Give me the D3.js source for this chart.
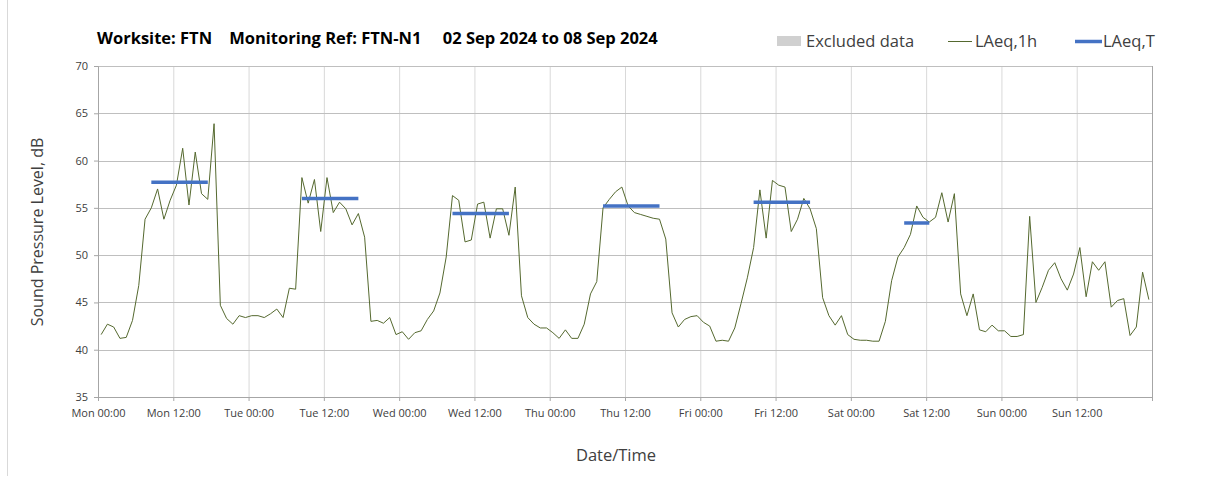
<!DOCTYPE html>
<html>
<head>
<meta charset="utf-8">
<script src="https://cdn.jsdelivr.net/npm/d3@7"></script>
<style>
  body { margin: 0; background: #fff; }
  text { font-family: "Open Sans", Lato, sans-serif; fill: #404040; }
</style>
</head>
<body>
<div id="chart-area"></div>
<script>
// hourly LAeq,1h values, Mon 00:00 .. Sun 23:00
var mon = [41.6, 42.7, 42.4, 41.2, 41.3, 43.1, 46.8, 53.8, 55.0, 57.0, 53.8, 55.8, 57.4, 61.3, 55.3, 60.9, 56.5, 55.9, 63.9, 44.7, 43.3, 42.7, 43.6, 43.4];
var tue = [43.6, 43.6, 43.4, 43.8, 44.3, 43.4, 46.5, 46.4, 58.2, 55.5, 58.0, 52.5, 58.2, 54.5, 55.6, 54.9, 53.2, 54.4, 51.9, 43.0, 43.1, 42.8, 43.4, 41.6];
var wed = [41.9, 41.1, 41.8, 42.0, 43.2, 44.1, 46.0, 49.8, 56.3, 55.8, 51.4, 51.6, 55.4, 55.6, 51.8, 54.9, 54.9, 52.1, 57.2, 45.7, 43.4, 42.7, 42.3, 42.3];
var thu = [41.8, 41.2, 42.1, 41.2, 41.2, 42.7, 45.9, 47.2, 55.0, 55.9, 56.7, 57.2, 55.2, 54.5, 54.3, 54.1, 53.9, 53.8, 51.7, 43.9, 42.4, 43.2, 43.5, 43.6];
var fri = [42.9, 42.5, 40.9, 41.0, 40.9, 42.3, 44.9, 47.6, 50.8, 56.9, 51.8, 57.9, 57.4, 57.2, 52.5, 53.8, 56.0, 54.9, 52.8, 45.5, 43.6, 42.6, 43.6, 41.6];
var sat = [41.1, 41.0, 41.0, 40.9, 40.9, 43.0, 47.3, 49.8, 50.8, 52.2, 55.2, 54.0, 53.5, 54.0, 56.6, 53.5, 56.5, 45.9, 43.6, 45.9, 42.1, 41.9, 42.6, 42.0];
var sun = [42.0, 41.4, 41.4, 41.6, 54.1, 45.0, 46.6, 48.4, 49.2, 47.5, 46.3, 48.0, 50.8, 45.6, 49.3, 48.4, 49.3, 44.5, 45.2, 45.4, 41.5, 42.4, 48.2, 45.3];

// LAeq,T per period: start hour, end hour (hours from Mon 00:00), level
var periodStart = [8, 32, 56, 80, 104, 128];
var periodEnd = [17, 41, 65, 89, 113, 132];
var periodLevel = [57.7, 56.0, 54.4, 55.2, 55.6, 53.4];

var dayNames = ['Mon', 'Tue', 'Wed', 'Thu', 'Fri', 'Sat', 'Sun'];
var yTicks = [35, 40, 45, 50, 55, 60, 65, 70];

var hourly = [].concat(mon, tue, wed, thu, fri, sat, sun).map(function (v, i) {
    return { hour: i + 0.5, value: v };
});

var margin = { top: 66, right: 53, bottom: 89, left: 98 };
var width = 1205 - margin.left - margin.right;
var height = 486 - margin.top - margin.bottom;

var svg = d3.select('#chart-area')
    .append('svg')
        .attr('width', 1205)
        .attr('height', 486);

// faint frame edge on the left
svg.append('line')
    .attr('x1', 7.5).attr('x2', 7.5)
    .attr('y1', 0).attr('y2', 476)
    .attr('stroke', '#d9d9d9');

var g = svg.append('g')
    .attr('transform', 'translate(' + margin.left + ',' + margin.top + ')');

var x = d3.scaleLinear()
    .domain([0, 168])
    .range([0, width]);

var y = d3.scaleLinear()
    .domain([35, 70])
    .range([height, 0]);

var xTicks = d3.range(0, 169, 12);

// vertical grid
g.append('g')
    .selectAll('line')
    .data(xTicks.slice(1, -1))
    .enter()
    .append('line')
        .attr('x1', function (d) { return x(d) + 0.5 })
        .attr('x2', function (d) { return x(d) + 0.5 })
        .attr('y1', 0)
        .attr('y2', height)
        .attr('stroke', '#d9d9d9');

// horizontal grid
g.append('g')
    .selectAll('line')
    .data(yTicks.slice(1))
    .enter()
    .append('line')
        .attr('x1', 0)
        .attr('x2', width)
        .attr('y1', function (d) { return Math.round(y(d)) + 0.5 })
        .attr('y2', function (d) { return Math.round(y(d)) + 0.5 })
        .attr('stroke', '#bfbfbf');

// right border
g.append('line')
    .attr('x1', width + 0.5).attr('x2', width + 0.5)
    .attr('y1', 0).attr('y2', height)
    .attr('stroke', '#a6a6a6');

// Y axis
var yAxisCall = d3.axisLeft(y)
    .tickValues(yTicks)
    .tickSize(4)
    .tickPadding(6);
var yAxis = g.append('g')
    .attr('class', 'left axis')
    .call(yAxisCall);

// X axis
var xAxisCall = d3.axisBottom(x)
    .tickValues(xTicks)
    .tickSize(4)
    .tickPadding(8)
    .tickFormat(function (d) {
        return dayNames[Math.floor(d / 24) % 7] + ' ' + (d % 24 === 0 ? '00:00' : '12:00')
    });
var xAxis = g.append('g')
    .attr('class', 'bottom axis')
    .attr('transform', 'translate(0, ' + height + ')')
    .call(xAxisCall);

[yAxis, xAxis].forEach(function (a) {
    a.select('.domain').attr('stroke', '#a6a6a6');
    a.selectAll('.tick line').attr('stroke', '#a6a6a6');
    a.selectAll('.tick text')
        .attr('font-family', 'Lato, sans-serif')
        .attr('font-size', '11px')
        .attr('fill', '#404040');
});
xAxis.selectAll('.tick').filter(function (d) { return d === 168 }).select('text').remove();

// LAeq,1h line
var line = d3.line()
    .x(function (d) { return x(d.hour) })
    .y(function (d) { return y(d.value) });

g.append('path')
    .datum(hourly)
    .attr('d', line)
    .attr('fill', 'none')
    .attr('stroke', '#55692f')
    .attr('stroke-width', 1);

// LAeq,T lines
g.selectAll('.laeqt')
    .data(periodLevel)
    .enter()
    .append('line')
        .attr('class', 'laeqt')
        .attr('x1', function (d, i) { return x(periodStart[i] + 0.5) })
        .attr('x2', function (d, i) { return x(periodEnd[i] + 0.5) })
        .attr('y1', function (d) { return y(d) })
        .attr('y2', function (d) { return y(d) })
        .attr('stroke', '#4472c4')
        .attr('stroke-width', 3.5);

// Title
svg.append('text')
    .attr('x', 97)
    .attr('y', 44)
    .attr('font-size', '16.5px')
    .attr('font-weight', 'bold')
    .style('fill', '#000')
    .attr('xml:space', 'preserve')
    .text('Worksite: FTN    Monitoring Ref: FTN-N1     02 Sep 2024 to 08 Sep 2024');

// Legend
var legend = svg.append('g');
legend.append('rect')
    .attr('x', 777).attr('y', 36)
    .attr('width', 24).attr('height', 10)
    .attr('fill', '#d0d0d0');
legend.append('text')
    .attr('x', 806).attr('y', 47)
    .attr('font-size', '16.5px')
    .text('Excluded data');
legend.append('line')
    .attr('x1', 948).attr('x2', 972)
    .attr('y1', 41.5).attr('y2', 41.5)
    .attr('stroke', '#55692f');
legend.append('text')
    .attr('x', 975).attr('y', 47)
    .attr('font-size', '16.5px')
    .text('LAeq,1h');
legend.append('line')
    .attr('x1', 1075).attr('x2', 1102)
    .attr('y1', 41.5).attr('y2', 41.5)
    .attr('stroke', '#4472c4')
    .attr('stroke-width', 3.5);
legend.append('text')
    .attr('x', 1103).attr('y', 47)
    .attr('font-size', '16.5px')
    .text('LAeq,T');

// Axis labels
svg.append('text')
    .attr('x', 616)
    .attr('y', 461)
    .attr('font-size', '16.5px')
    .attr('text-anchor', 'middle')
    .text('Date/Time');

svg.append('text')
    .attr('transform', 'translate(43, 232) rotate(-90)')
    .attr('font-size', '16px')
    .attr('text-anchor', 'middle')
    .text('Sound Pressure Level, dB');
</script>
</body>
</html>
